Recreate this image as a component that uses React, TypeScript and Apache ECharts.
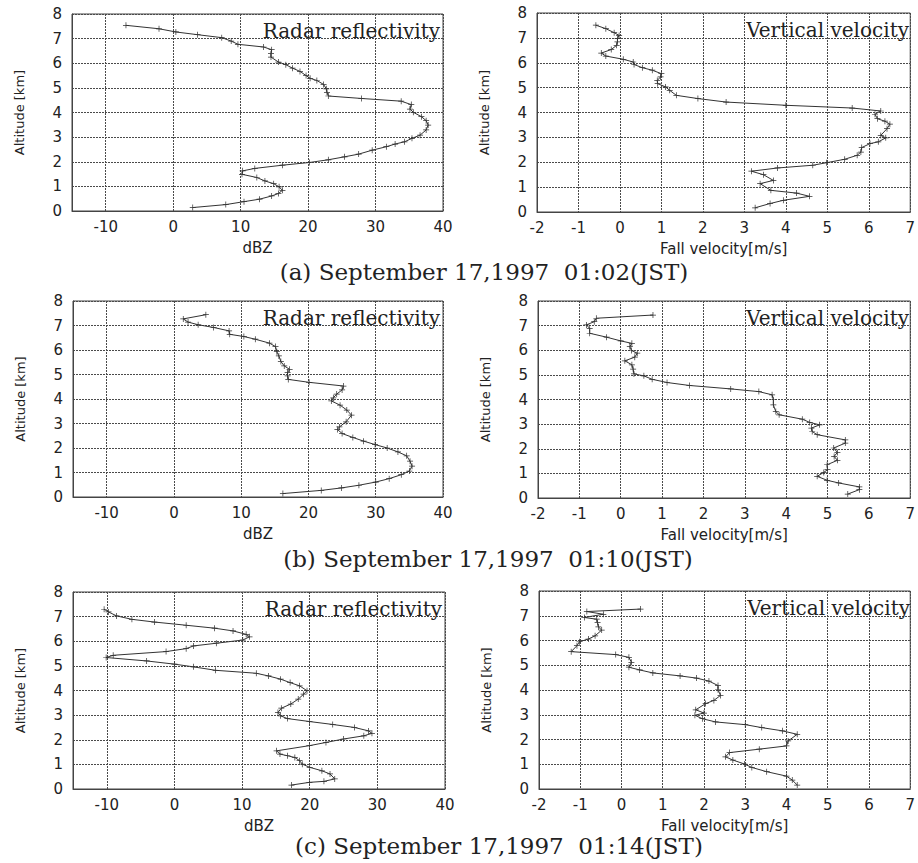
import React, { useEffect, useRef } from 'react';
import * as echarts from 'echarts';

// ---------- data ----------
// (a) 01:02 JST
const reflA_dbz = [-7.0, -2.1, 0.4, 3.6, 7.2, 8.6, 9.6, 13.4, 14.6, 14.5, 14.5, 15.6, 16.7, 17.7, 18.8, 19.7, 20.3, 21.3, 22.3, 22.7, 22.8, 23.0, 27.9, 33.8, 35.3, 35.1, 35.6, 36.8, 37.5, 37.8, 37.5, 36.6, 35.4, 34.3, 32.9, 31.6, 29.5, 27.5, 25.4, 23.0, 20.2, 16.2, 12.1, 10.3, 10.2, 12.4, 13.6, 14.9, 15.7, 16.2, 15.6, 14.6, 12.8, 10.5, 7.8, 2.9];
const reflA_alt = [7.54, 7.40, 7.27, 7.16, 7.04, 6.90, 6.77, 6.66, 6.55, 6.39, 6.25, 6.05, 5.94, 5.80, 5.67, 5.50, 5.39, 5.30, 5.14, 4.96, 4.82, 4.67, 4.57, 4.46, 4.32, 4.14, 4.01, 3.83, 3.67, 3.49, 3.29, 3.08, 2.95, 2.81, 2.72, 2.61, 2.47, 2.31, 2.20, 2.08, 1.97, 1.86, 1.73, 1.63, 1.49, 1.36, 1.22, 1.11, 0.98, 0.84, 0.71, 0.61, 0.48, 0.38, 0.26, 0.14];
const velA_ms = [-0.58, -0.34, -0.14, -0.02, -0.06, -0.06, -0.08, -0.21, -0.45, -0.34, 0.08, 0.32, 0.34, 0.54, 0.78, 1.0, 0.98, 0.90, 0.91, 1.10, 1.20, 1.36, 1.88, 2.56, 4.0, 5.60, 6.29, 6.15, 6.21, 6.39, 6.51, 6.44, 6.29, 6.41, 6.23, 6.03, 5.83, 5.81, 5.72, 5.42, 4.98, 4.65, 3.80, 3.17, 3.46, 3.70, 3.38, 3.64, 4.26, 4.57, 3.94, 3.62, 3.26];
const velA_alt = [7.51, 7.37, 7.21, 7.10, 6.97, 6.84, 6.70, 6.53, 6.39, 6.27, 6.14, 6.03, 5.93, 5.80, 5.70, 5.56, 5.43, 5.29, 5.16, 5.03, 4.89, 4.69, 4.56, 4.42, 4.29, 4.18, 4.06, 3.93, 3.75, 3.65, 3.53, 3.35, 3.08, 2.98, 2.82, 2.75, 2.59, 2.41, 2.28, 2.12, 1.98, 1.88, 1.77, 1.64, 1.50, 1.27, 1.14, 0.87, 0.76, 0.63, 0.47, 0.34, 0.17];

// (b) 01:10 JST
const reflB_dbz = [4.75, 1.39, 2.1, 3.6, 5.9, 8.2, 8.3, 10.4, 12.1, 14.2, 15.1, 15.3, 15.6, 15.9, 16.4, 17.2, 16.9, 16.9, 17.0, 20.1, 25.2, 25.0, 24.2, 23.7, 23.4, 24.7, 25.7, 26.4, 25.6, 24.6, 24.3, 25.0, 26.6, 28.2, 29.9, 31.7, 33.3, 34.6, 35.1, 35.4, 35.0, 33.8, 32.0, 30.0, 27.5, 24.9, 21.9, 16.2];
const reflB_alt = [7.44, 7.27, 7.14, 7.03, 6.92, 6.78, 6.64, 6.55, 6.44, 6.28, 6.14, 5.93, 5.76, 5.53, 5.35, 5.21, 5.08, 4.94, 4.80, 4.68, 4.53, 4.37, 4.20, 4.05, 3.92, 3.75, 3.55, 3.34, 3.07, 2.86, 2.76, 2.59, 2.43, 2.28, 2.14, 2.00, 1.84, 1.68, 1.46, 1.26, 1.06, 0.91, 0.75, 0.61, 0.48, 0.37, 0.27, 0.14];
const velB_ms = [0.78, -0.59, -0.64, -0.83, -0.75, -0.75, -0.34, 0.0, 0.27, 0.22, 0.26, 0.40, 0.34, 0.10, 0.27, 0.30, 0.32, 0.56, 0.76, 1.12, 1.66, 2.66, 3.34, 3.66, 3.69, 3.69, 3.75, 3.83, 4.39, 4.57, 4.81, 4.61, 4.63, 4.75, 5.43, 5.43, 5.15, 5.24, 5.16, 5.24, 4.99, 5.00, 4.91, 4.75, 4.99, 5.27, 5.77, 5.77, 5.49];
const velB_alt = [7.43, 7.30, 7.16, 7.03, 6.89, 6.69, 6.53, 6.38, 6.28, 6.15, 5.99, 5.88, 5.72, 5.57, 5.41, 5.23, 5.04, 4.96, 4.82, 4.69, 4.57, 4.43, 4.32, 4.19, 3.99, 3.78, 3.51, 3.38, 3.20, 3.07, 2.97, 2.84, 2.70, 2.57, 2.36, 2.23, 2.03, 1.85, 1.69, 1.53, 1.35, 1.15, 1.04, 0.88, 0.72, 0.61, 0.45, 0.34, 0.16];

// (c) 01:14 JST
const reflC_dbz = [-10.4, -9.75, -8.56, -6.29, -2.97, 1.73, 5.94, 8.66, 10.6, 11.1, 10.1, 6.19, 2.82, 1.73, -1.24, -9.06, -10.1, -4.11, 0.0, 2.82, 6.09, 12.1, 13.9, 15.7, 17.1, 18.5, 19.6, 19.1, 18.3, 17.2, 15.8, 15.3, 15.7, 16.7, 19.95, 23.4, 26.6, 28.7, 29.2, 28.0, 25.0, 22.4, 19.95, 15.1, 15.6, 16.7, 17.8, 18.5, 18.9, 20.0, 21.8, 23.0, 23.7, 22.1, 19.95, 17.3];
const reflC_alt = [7.30, 7.19, 7.03, 6.89, 6.78, 6.65, 6.53, 6.42, 6.28, 6.18, 6.05, 5.92, 5.81, 5.70, 5.58, 5.43, 5.34, 5.20, 5.07, 4.96, 4.82, 4.70, 4.59, 4.46, 4.32, 4.19, 3.99, 3.85, 3.65, 3.45, 3.28, 3.11, 2.97, 2.86, 2.74, 2.62, 2.50, 2.36, 2.26, 2.16, 2.03, 1.89, 1.76, 1.55, 1.42, 1.35, 1.28, 1.15, 1.01, 0.88, 0.74, 0.61, 0.41, 0.31, 0.27, 0.16];
const velC_ms = [0.46, -0.84, -0.44, -0.90, -0.60, -0.58, -0.56, -0.48, -0.64, -0.80, -1.02, -1.08, -1.22, -0.14, 0.18, 0.24, 0.18, 0.44, 0.76, 1.42, 1.82, 2.12, 2.34, 2.34, 2.40, 2.24, 2.04, 1.80, 2.00, 1.78, 1.96, 2.28, 3.0, 3.40, 3.90, 4.26, 4.04, 4.0, 3.34, 2.62, 2.52, 2.70, 2.98, 3.16, 3.52, 4.0, 4.14, 4.26];
const velC_alt = [7.27, 7.17, 7.06, 6.93, 6.86, 6.73, 6.55, 6.42, 6.19, 6.06, 5.95, 5.79, 5.55, 5.43, 5.32, 5.12, 4.92, 4.81, 4.69, 4.57, 4.48, 4.36, 4.18, 4.01, 3.78, 3.58, 3.45, 3.20, 3.07, 2.98, 2.84, 2.71, 2.60, 2.48, 2.35, 2.21, 1.94, 1.74, 1.61, 1.47, 1.30, 1.17, 1.01, 0.87, 0.70, 0.52, 0.36, 0.16];

// axes / texts
const ALT_RANGE = [0, 8];
const DBZ_RANGE = [-15, 40];
const VEL_RANGE = [-2, 7];
const PANEL_TITLES = ['Radar reflectivity', 'Vertical velocity'];
const X_NAMES = ['dBZ', 'Fall velocity[m/s]'];
const Y_NAME = 'Altitude [km]';
const CAPTIONS = [
  '(a) September 17,1997  01:02(JST)',
  '(b) September 17,1997  01:10(JST)',
  '(c) September 17,1997  01:14(JST)',
];

const SERIES_X = [reflA_dbz, velA_ms, reflB_dbz, velB_ms, reflC_dbz, velC_ms];
const SERIES_Y = [reflA_alt, velA_alt, reflB_alt, velB_alt, reflC_alt, velC_alt];

// layout (pixels)
const GRIDS = [
  { left: 72, top: 14, width: 371, height: 197 },
  { left: 537, top: 13, width: 375, height: 199 },
  { left: 73, top: 301, width: 370, height: 196 },
  { left: 538, top: 301, width: 374, height: 197 },
  { left: 73, top: 592, width: 372, height: 197 },
  { left: 539, top: 591, width: 374, height: 198 },
];
const CAPTION_POS = [
  { x: 484, y: 272 },
  { x: 488, y: 559 },
  { x: 499, y: 846 },
];

const INK = '#222';
const LINE = '#333333';
const GRIDLINE = '#4a4a4a';
const PLUS = 'path://M0,4.4H10V5.6H0Z M4.4,0H5.6V10H4.4Z';

function buildOption() {
  const grid: any[] = [];
  const xAxis: any[] = [];
  const yAxis: any[] = [];
  const series: any[] = [];
  const graphic: any[] = [];

  GRIDS.forEach((g, i) => {
    const isVel = i % 2 === 1;
    grid.push({ ...g, show: true, borderColor: '#444', borderWidth: 1, containLabel: false });
    const range = isVel ? VEL_RANGE : DBZ_RANGE;
    xAxis.push({
      type: 'value',
      gridIndex: i,
      min: range[0],
      max: range[1],
      ...(isVel ? { interval: 1 } : {}),
      name: X_NAMES[i % 2],
      nameLocation: 'middle',
      nameGap: 29,
      nameTextStyle: { fontFamily: 'DejaVu Sans', fontSize: 15, color: INK },
      axisLine: { show: true, onZero: false, lineStyle: { color: '#444', width: 1 } },
      axisTick: { show: false },
      axisLabel: {
        margin: 8,
        fontFamily: 'DejaVu Sans',
        fontSize: 15,
        color: INK,
        formatter: (v: number) => (v === -15 ? '' : String(v)),
      },
      splitLine: { show: true, lineStyle: { color: GRIDLINE, type: [2, 1], width: 1 } },
    });
    yAxis.push({
      type: 'value',
      gridIndex: i,
      min: ALT_RANGE[0],
      max: ALT_RANGE[1],
      interval: 1,
      name: Y_NAME,
      nameLocation: 'middle',
      nameGap: 46,
      nameRotate: 90,
      nameTextStyle: { fontFamily: 'DejaVu Sans', fontSize: 13, color: INK },
      axisLine: { show: true, onZero: false, lineStyle: { color: '#444', width: 1 } },
      axisTick: { show: false },
      axisLabel: { margin: 10, fontFamily: 'DejaVu Sans', fontSize: 15, color: INK },
      splitLine: { show: true, lineStyle: { color: GRIDLINE, type: [2, 1], width: 1 } },
    });
    const xs = SERIES_X[i];
    const ys = SERIES_Y[i];
    series.push({
      type: 'line',
      xAxisIndex: i,
      yAxisIndex: i,
      data: xs.map((x, k) => [x, ys[k]]),
      symbol: PLUS,
      symbolSize: 6,
      showSymbol: true,
      silent: true,
      lineStyle: { color: LINE, width: 1 },
      itemStyle: { color: LINE },
      z: 3,
    });
    graphic.push({
      type: 'text',
      x: g.left + g.width - 3,
      y: g.top + 17,
      style: {
        text: PANEL_TITLES[i % 2],
        fontFamily: 'DejaVu Serif',
        fontSize: 20,
        fill: INK,
        align: 'right',
        verticalAlign: 'middle',
      },
      z: 10,
    });
  });

  CAPTIONS.forEach((c, i) => {
    graphic.push({
      type: 'text',
      x: CAPTION_POS[i].x,
      y: CAPTION_POS[i].y,
      style: {
        text: c,
        fontFamily: 'DejaVu Serif',
        fontSize: 23,
        fill: INK,
        align: 'center',
        verticalAlign: 'middle',
      },
    });
  });

  return {
    animation: false,
    backgroundColor: '#ffffff',
    grid,
    xAxis,
    yAxis,
    series,
    graphic,
  };
}

export default function App() {
  const ref = useRef<HTMLDivElement>(null);
  useEffect(() => {
    if (!ref.current) return;
    const chart = echarts.init(ref.current, undefined, { renderer: 'svg' });
    chart.setOption(buildOption() as any);
    return () => chart.dispose();
  }, []);
  return (
    <div
      ref={ref}
      style={{ position: 'fixed', left: 0, top: 0, width: 918, height: 863, background: '#fff' }}
    />
  );
}
